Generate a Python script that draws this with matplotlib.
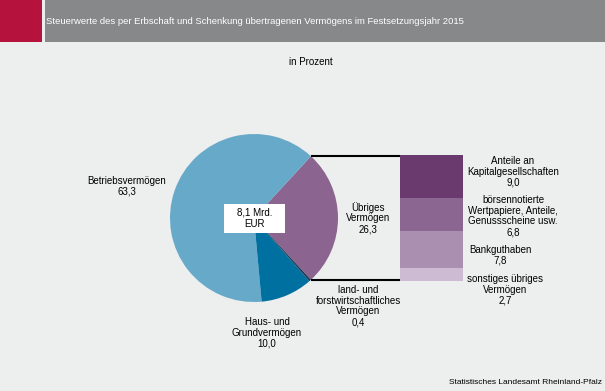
import numpy as np
import matplotlib.pyplot as plt
from matplotlib.patches import Rectangle

plt.rcParams['font.family'] = ['Liberation Sans', 'DejaVu Sans']

title = 'Steuerwerte des per Erbschaft und Schenkung übertragenen Vermögens im Festsetzungsjahr 2015'
unit = 'in Prozent'
source = 'Statistisches Landesamt Rheinland-Pfalz'
total_label = '8,1 Mrd.\nEUR'

# pie, counterclockwise starting with the exploded part
pie_labels = ['Übriges\nVermögen', 'Betriebsvermögen', 'Haus- und\nGrundvermögen',
              'land- und\nforstwirtschaftliches\nVermögen']
pie_values = [26.3, 63.3, 10.0, 0.4]
pie_colors = ['#8B6590', '#67A9C9', '#0070A0', '#1E3A55']

# breakdown of "Übriges Vermögen", top to bottom
bar_labels = ['Anteile an\nKapitalgesellschaften', 'börsennotierte\nWertpapiere, Anteile,\nGenussscheine usw.',
              'Bankguthaben', 'sonstiges übriges\nVermögen']
bar_values = [9.0, 6.8, 7.8, 2.7]
bar_colors = ['#6A3A6E', '#8A6690', '#AB8FB0', '#CDBBD3']

W, H = 605, 391
fig = plt.figure(figsize=(W / 100, H / 100), dpi=100)
fig.patch.set_facecolor('#EDEEEE')
ax = fig.add_axes([0, 0, 1, 1])

def fmt(v):
    return f'{v:.1f}'.replace('.', ',')

# header
ax.add_patch(Rectangle((0, H - 42), 42, 42, color='#B5123E', lw=0))
ax.add_patch(Rectangle((45, H - 42), W - 45, 42, color='#87888A', lw=0))
ax.text(46, H - 21, title, color='white', fontsize=6.8, va='center', ha='left')
ax.text(311, H - 62, unit, fontsize=7, ha='center', va='center')

# pie
cx, cy, r = 254, H - 218, 84
start = -pie_values[0] / 100 * 360 / 2
ax.pie(pie_values, colors=pie_colors, startangle=start, counterclock=True,
       center=(cx, cy), radius=r, frame=True, wedgeprops=dict(linewidth=0))
ax.set_xlim(0, W)
ax.set_ylim(0, H)
ax.set_aspect('equal')
ax.axis('off')

ax.add_patch(Rectangle((cx - 30, cy - 14.5), 61, 29, fc='white', ec='none', zorder=3))
ax.text(cx + 0.5, cy, total_label, fontsize=7, ha='center', va='center', linespacing=1.2, zorder=4)

# connector points on the pie
a_top = np.deg2rad(start + pie_values[0] / 100 * 360)
a_bot = np.deg2rad(start)
px_top, py_top = cx + r * np.cos(a_top), cy + r * np.sin(a_top)
px_bot, py_bot = cx + r * np.cos(a_bot), cy + r * np.sin(a_bot)

# bar of breakdown
bx0, bx1 = 400, 463
by_top, by_bot = py_top + 1, py_bot - 1
bax = fig.add_axes([bx0 / W, by_bot / H, (bx1 - bx0) / W, (by_top - by_bot) / H])
bottom = sum(bar_values)
for v, c in zip(bar_values, bar_colors):
    bottom -= v
    bax.bar(0, v, bottom=bottom, width=1, color=c, linewidth=0)
bax.set_xlim(-0.5, 0.5)
bax.set_ylim(0, sum(bar_values))
bax.axis('off')

ax.plot([px_top, bx0], [py_top, py_top], color='black', lw=1.5, solid_capstyle='butt')
ax.plot([px_bot, bx0], [py_bot, py_bot], color='black', lw=1.5, solid_capstyle='butt')

# pie labels
pie_pos = [(368, 218), (127, 186), (267, 333), (358, 306)]
for lab, v, (x, y) in zip(pie_labels, pie_values, pie_pos):
    ax.text(x, H - y, lab + '\n' + fmt(v), fontsize=7, ha='center', va='center', linespacing=1.1)

bar_pos = [(513, 172), (513, 216), (500, 255), (505, 290)]
for lab, v, (x, y) in zip(bar_labels, bar_values, bar_pos):
    ax.text(x, H - y, lab + '\n' + fmt(v), fontsize=7, ha='center', va='center', linespacing=1.1)

ax.text(602, H - 382, source, fontsize=6, ha='right', va='center')

fig.savefig('out.png', dpi=100, facecolor=fig.get_facecolor())
